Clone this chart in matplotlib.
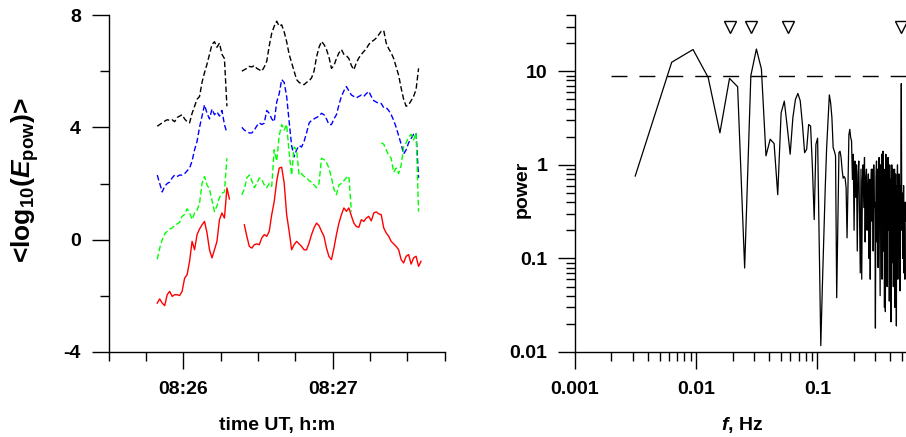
import numpy as np
import matplotlib
matplotlib.use('Agg')
import matplotlib.pyplot as plt
from matplotlib.ticker import FixedLocator, FixedFormatter, LogLocator, NullFormatter, MultipleLocator

plt.rcParams['font.family'] = ['Liberation Sans', 'DejaVu Sans']
plt.rcParams['font.weight'] = 'bold'
plt.rcParams['mathtext.fontset'] = 'custom'
plt.rcParams['mathtext.rm'] = 'Liberation Sans:bold'
plt.rcParams['mathtext.it'] = 'Liberation Sans:bold:italic'
plt.rcParams['mathtext.bf'] = 'Liberation Sans:bold'
plt.rcParams['lines.scale_dashes'] = False

nan = np.nan

# ---------------- left panel data (seconds after 08:25:00, 1 s sampling) -------------
time_start = 49.5
black = [4.04, 4.10, 4.16, 4.22, 4.27, 4.25, 4.27, 4.20, 4.35, 4.40,
         4.45, 4.30, 4.20, 4.16, 4.50, 4.75, 5.00, 5.10, 5.60, 5.95,
         6.25, 6.60, 6.95, 7.05, 6.85, 7.00, 6.60, 6.45, 4.75,
         nan, nan, nan, nan, nan,
         6.00, 6.05, 6.10, 6.17, 6.15, 6.20, 6.10, 6.05, 6.00, 6.15,
         6.35, 6.90, 7.35, 7.60, 7.78, 7.60, 7.65, 7.40, 7.05, 6.60,
         6.30, 6.00, 5.70, 5.60, 5.55, 5.52, 5.60, 5.65, 5.76, 6.00,
         6.50, 6.85, 7.06, 6.95, 6.77, 6.50, 6.10, 6.20, 6.45, 6.65,
         6.77, 6.60, 6.55, 6.45, 6.20, 6.05, 6.30, 6.47, 6.60, 6.70,
         6.80, 6.95, 7.05, 7.10, 7.18, 7.30, 7.42, 7.45, 7.00, 6.80,
         6.65, 6.45, 6.15, 5.85, 5.40, 5.00, 4.75, 4.80, 4.95, 5.10,
         5.35, 6.10, nan]

blue = [2.30, 2.00, 1.70, 1.90, 2.00, 2.05, 2.20, 2.30, 2.25, 2.30,
        2.30, 2.35, 2.45, 2.55, 2.80, 3.20, 3.50, 4.00, 4.40, 4.80,
        4.50, 4.30, 4.65, 4.45, 4.55, 4.40, 4.60, 4.10, 3.80,
        nan, nan, nan, nan, nan,
        4.00, 3.90, 3.85, 3.80, 3.80, 3.90, 4.05, 4.16, 4.10, 4.15,
        4.60, 4.50, 4.30, 4.20, 4.90, 5.20, 5.70, 5.60, 5.10, 4.20,
        3.35, 2.95, 3.20, 3.35, 3.30, 3.50, 3.80, 4.15, 4.25, 4.30,
        4.35, 4.40, 4.50, 4.45, 4.30, 4.10, 4.10, 4.30, 4.45, 4.80,
        5.10, 5.30, 5.45, 5.30, 5.15, 5.10, 5.05, 5.10, 5.15, 5.10,
        5.20, 5.28, 5.10, 4.95, 4.90, 4.85, 4.85, 4.70, 4.70, 4.60,
        4.45, 4.25, 4.00, 3.70, 3.40, 3.05, 3.20, 3.45, 3.60, 3.75,
        3.80, 2.20, nan]

green = [-0.70, -0.30, 0.00, 0.20, 0.30, 0.38, 0.42, 0.50, 0.56, 0.62,
         0.83, 0.90, 1.10, 0.95, 0.72, 0.95, 1.05, 1.30, 2.00, 2.25,
         1.95, 1.80, 1.40, 1.00, 1.20, 1.50, 1.65, 1.70, 2.90,
         nan, nan, nan, nan, nan,
         1.60, 1.80, 2.20, 2.30, 2.10, 1.85, 2.00, 2.20, 2.15, 1.95,
         1.85, 2.00, 1.90, 3.20, 2.80, 3.70, 4.10, 3.90, 4.10, 3.10,
         2.30, 3.30, 3.20, 2.30, 2.35, 2.25, 2.20, 2.10, 2.05, 1.95,
         1.85, 2.00, 2.90, 2.85, 2.75, 2.55, 2.20, 1.80, 1.60, 1.95,
         2.00, 2.10, 2.20, 2.26, 1.00,
         nan, nan, nan, nan, nan, nan, nan, nan, nan, nan, nan,
         3.45, 3.40, 3.20, 3.00, 2.90, 2.40, 2.55, 2.35, 2.65, 3.30,
         3.45, 3.65, 3.75, 3.55, 3.80, 1.00, nan]

red = [-2.26, -2.11, -2.26, -2.35, -1.96, -1.84, -2.02, -1.96, -1.96, -1.99,
       -1.84, -1.37, -1.25, -0.77, -0.06, -0.36, 0.18, 0.38, 0.53, 0.65,
       0.24, -0.36, -0.65, -0.36, -0.06, 0.71, 0.95, 0.77, 1.84, 1.45,
       nan, nan, nan, nan, nan,
       0.53, 0.12, -0.24, -0.30, -0.18, -0.15, -0.18, 0.06, 0.18, 0.12,
       0.30, 0.89, 1.36, 2.08, 2.55, 2.58, 2.02, 0.89, 0.30, -0.36,
       -0.18, -0.06, -0.15, -0.24, -0.36, -0.36, -0.12, 0.18, 0.42, 0.59,
       0.50, 0.30, 0.12, -0.30, -0.60,
       -0.71, -0.30, 0.18, 0.59, 0.89, 1.13, 1.01, 1.13, 0.85, 0.59,
       0.47, 0.44, 0.71, 0.65, 0.77, 0.83, 0.67, 0.95, 0.99, 0.92,
       0.89, 0.42, 0.24, 0.12, -0.06, -0.15, -0.24, -0.36, -0.71, -0.83,
       -0.59, -0.53, -0.87, -0.65, -0.59, -0.95, -0.77]

time_s = time_start + np.arange(len(red))

left_xlim = (30, 165)
left_major_ticks = [60, 120]
left_tick_labels = ['08:26', '08:27']
left_yticks = [-4, 0, 4, 8]
left_ytick_labels = ['-4', '0', '4', '8']

# ---------------- right panel data -------------
df = 0.00314
power = [0.76, 12.5, 17.1, 8.6, 2.2, 8.4, 6.85, 0.079, 9.0, 17.3,
         10.6, 1.25, 1.88, 1.69, 0.48, 3.6, 4.8, 2.5, 1.3, 3.2,
         5.0, 5.8, 4.85, 2.7, 1.35, 1.47, 2.7, 2.6, 0.94, 0.26,
         1.66, 1.93, 0.153, 0.0117, 0.048, 0.166, 0.57, 1.53, 2.96, 5.6,
         4.6, 3.2, 1.53, 1.4, 1.25, 0.038, 0.25, 1.35, 1.4, 1.2,
         0.88, 0.72, 0.75, 0.72, 0.57, 0.166, 0.57, 2.1, 2.4, 1.96,
         1.8, 0.7, 1.3, 0.2, 1.1, 0.45, 1.0, 0.12, 0.8, 1.1,
         0.3, 0.07, 0.9, 0.06, 0.7, 1.0, 0.35, 1.2, 0.15, 0.7,
         0.9, 0.2, 0.5, 0.8, 0.1, 0.7, 0.06, 0.6, 0.9, 0.25,
         0.9, 0.12, 1.0, 0.35, 0.4, 0.018, 0.7, 1.1, 0.15, 0.9,
         0.08, 0.6, 1.2, 0.2, 0.04, 1.0, 0.3, 1.3, 0.06, 0.5,
         1.4, 0.12, 0.9, 0.03, 0.7, 0.027, 1.3, 0.4, 1.1, 0.05,
         0.6, 1.2, 0.2, 0.8, 0.035, 1.0, 0.25, 0.7, 0.021, 0.5,
         1.0, 0.09, 0.4, 0.9, 0.05, 0.7, 0.2, 0.9, 0.03, 0.4,
         0.8, 0.12, 0.019, 0.6, 0.3, 1.0, 0.06, 0.5, 0.2, 0.8,
         0.1, 0.4, 0.045, 0.6, 0.25, 1.5, 7.4, 0.7, 0.2, 0.5,
         0.1, 0.4, 0.15, 0.6, 0.07, 0.3, 0.2, 0.06, 0.4, 0.25]
freq = df * np.arange(1, len(power) + 1)

peak_freqs = [0.019, 0.0286, 0.0573, 0.493]
peak_marker_level = 30
significance_level = 9.0
significance_fstart = 0.002

right_xticks = [0.001, 0.01, 0.1, 1]
right_xlabels = ['0.001', '0.01', '0.1', '1']
right_yticks = [0.01, 0.1, 1, 10]
right_ylabels = ['0.01', '0.1', '1', '10']

# ---------------- figure -------------
fig = plt.figure(figsize=(9.06, 4.37), dpi=100)
W, H = 906, 437
ax1 = fig.add_axes([108.7 / W, (H - 352) / H, 336 / W, 337 / H])
ax2 = fig.add_axes([575 / W, (H - 352) / H, (W - 575) / W, 337 / H])

dash = (0, (4, 2))
ax1.plot(time_s, black, color='black', lw=1.0, ls=dash)
ax1.plot(time_s, blue, color='#0000ff', lw=1.0, ls=dash)
ax1.plot(time_s, green, color='#00ff00', lw=1.0, ls=dash)
ax1.plot(time_s, red, color='#ff0000', lw=1.0)

ax1.set_xlim(*left_xlim)
ax1.set_ylim(-4, 8)
ax1.xaxis.set_major_locator(FixedLocator(left_major_ticks))
ax1.xaxis.set_major_formatter(FixedFormatter(left_tick_labels))
ax1.xaxis.set_minor_locator(MultipleLocator(15))
ax1.yaxis.set_major_locator(FixedLocator(left_yticks))
ax1.yaxis.set_major_formatter(FixedFormatter(left_ytick_labels))
ax1.yaxis.set_minor_locator(MultipleLocator(2))

ax2.plot(freq, power, color='black', lw=0.9)
ax2.hlines(significance_level, significance_fstart, 1.0, colors='black', lw=1.0,
           linestyles=(0, (11.5, 8.6)))
ax2.plot(peak_freqs, [peak_marker_level] * len(peak_freqs), ls='none', marker='v',
         ms=9, mfc='white', mec='black', mew=1.0, clip_on=False)
ax2.set_xscale('log')
ax2.set_yscale('log')
ax2.set_xlim(0.001, 0.539)
ax2.set_ylim(0.01, 40)
ax2.xaxis.set_major_locator(FixedLocator(right_xticks))
ax2.xaxis.set_major_formatter(FixedFormatter(right_xlabels))
ax2.xaxis.set_minor_locator(LogLocator(base=10, subs=np.arange(2, 10)))
ax2.xaxis.set_minor_formatter(NullFormatter())
ax2.yaxis.set_major_locator(FixedLocator(right_yticks))
ax2.yaxis.set_major_formatter(FixedFormatter(right_ylabels))
ax2.yaxis.set_minor_locator(LogLocator(base=10, subs=np.arange(2, 10)))
ax2.yaxis.set_minor_formatter(NullFormatter())

for ax in (ax1, ax2):
    for s in ('top', 'right'):
        ax.spines[s].set_visible(False)
    for s in ('left', 'bottom'):
        ax.spines[s].set_linewidth(1.0)
    ax.tick_params(which='major', length=12, width=1.0, direction='out', labelsize=14)
    ax.tick_params(which='minor', length=6.5, width=1.0, direction='out')
    ax.tick_params(axis='x', which='major', pad=9)
    ax.tick_params(axis='y', which='major', pad=8)
    for lab in ax.get_xticklabels() + ax.get_yticklabels():
        lab.set_fontweight('bold')

ax1.set_ylabel(r'<log$_{10}$($\mathit{E}_{\mathrm{pow}}$)>', fontsize=19, fontweight='bold',
               va='center', ha='center')
ax1.yaxis.set_label_coords(-0.249, 0.51)
ax1.set_xlabel('time UT, h:m', fontsize=14, fontweight='bold', va='center', ha='center')
ax1.xaxis.set_label_coords(0.5, -0.217)

ax2.set_ylabel('power', fontsize=14, fontweight='bold', va='center', ha='center')
ax2.yaxis.set_label_coords(-0.160, 0.484)
ax2.set_xlabel(r'$\mathit{f}$, Hz', fontsize=14, fontweight='bold', va='center', ha='center')
ax2.xaxis.set_label_coords(0.504, -0.217)

fig.savefig('out.png', dpi=100)
